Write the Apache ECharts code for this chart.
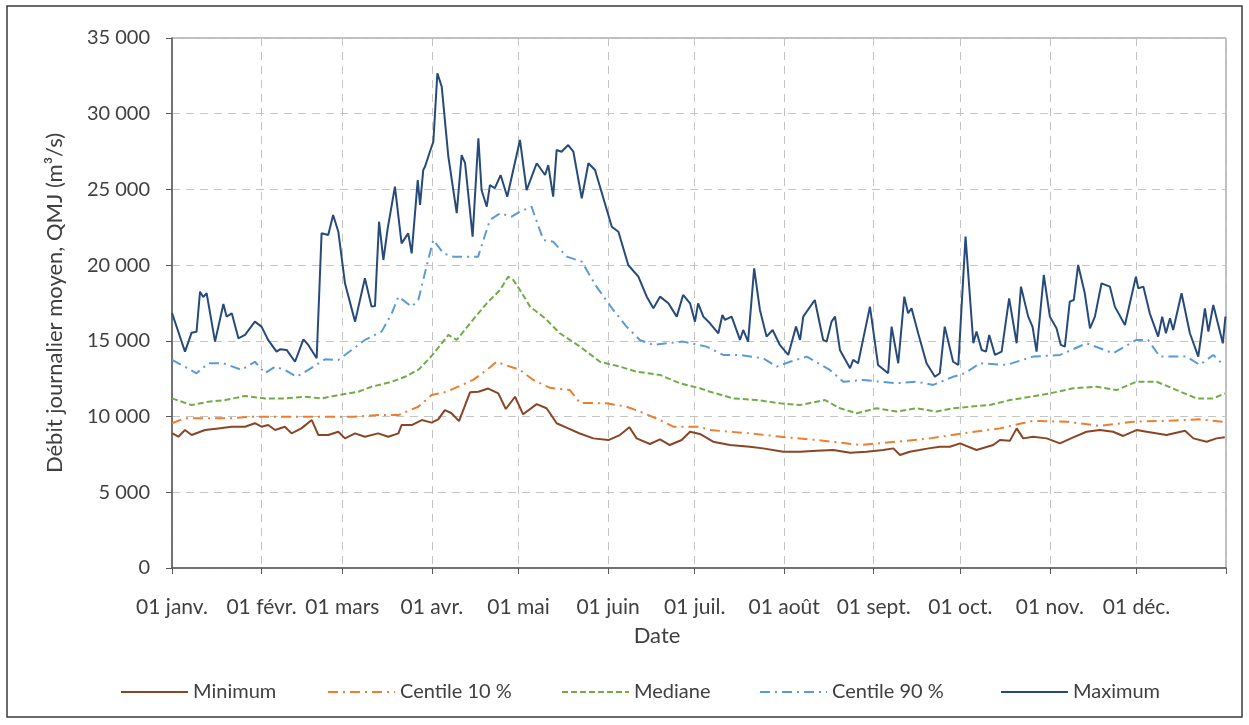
<!DOCTYPE html>
<html>
<head>
<meta charset="utf-8">
<script src="https://cdn.jsdelivr.net/npm/echarts@6/dist/echarts.min.js"></script>
<style>
  html, body { margin: 0; padding: 0; background: #fff; }
  #chart { width: 1249px; height: 725px; }
</style>
</head>
<body>
<div id="chart"></div>
<script>
// jours de l'année (0 = 01 janv.) et libellés des mois
var monthStarts = [0, 31, 59, 90, 120, 151, 181, 212, 243, 273, 304, 334];
var monthLabels = ['01 janv.', '01 févr.', '01 mars', '01 avr.', '01 mai', '01 juin',
  '01 juil.', '01 août', '01 sept.', '01 oct.', '01 nov.', '01 déc.'];
var seriesNames = ['Minimum', 'Centile 10 %', 'Mediane', 'Centile 90 %', 'Maximum'];

// [jour, débit m3/s]
var minimum = [[0,8900],[2.2,8670],[4.5,9110],[6.8,8780],[11.4,9110],[16,9220],[20.7,9330],[25.3,9330],[28.7,9560],[31,9330],[33.3,9440],[35.7,9110],[39.1,9330],[41.4,8890],[44.8,9220],[48.4,9770],[50.7,8780],[54.1,8780],[57.6,9000],[59.9,8560],[63.4,8890],[66.8,8670],[71.4,8890],[74.9,8670],[78.4,8890],[79.5,9440],[83,9440],[86.5,9770],[89.9,9600],[92.2,9820],[94.5,10430],[96.8,10220],[99.4,9700],[103.2,11600],[106.1,11640],[109.5,11850],[113,11530],[115.6,10500],[118.8,11310],[121.6,10150],[126.3,10820],[129.7,10550],[130.9,10220],[133.2,9560],[137.2,9220],[141,8900],[145.9,8560],[151.1,8450],[155.1,8780],[158.4,9290],[160.9,8560],[165.5,8190],[169,8500],[172.4,8120],[176.5,8450],[179.4,9000],[182.8,8850],[187.4,8340],[193.2,8120],[200.1,8010],[204.7,7900],[211.7,7680],[217.5,7680],[223.2,7750],[229,7790],[234.8,7610],[240.5,7680],[246.3,7790],[249.8,7900],[252.1,7460],[255.5,7680],[258.9,7790],[262,7900],[265.9,8010],[269.4,8010],[272.9,8230],[278.6,7790],[284.4,8120],[286.7,8450],[290.2,8410],[292.5,9220],[294.8,8560],[298.2,8670],[302.9,8560],[307.5,8230],[312.1,8630],[316.7,9000],[321.3,9110],[325.9,9000],[329.4,8720],[334,9110],[337.5,9000],[344.4,8780],[350.8,9070],[353.7,8560],[358.3,8340],[361.7,8560],[364.6,8630]];

var centile10 = [[0,9560],[4.5,9890],[12.6,9890],[20.7,9890],[27.6,9990],[33.3,9990],[39.1,9990],[47.2,9990],[55.3,9990],[63.4,9990],[71.4,10100],[78.4,10100],[85.3,10650],[89.9,11420],[95.1,11640],[104.3,12420],[109,13080],[112.4,13620],[115.3,13410],[120.5,13080],[125.1,12420],[130.9,11900],[137.8,11750],[141.3,10900],[150.5,10880],[157.4,10650],[162,10330],[169,9770],[173.6,9330],[182.8,9330],[186.3,9110],[200.1,8890],[212.8,8630],[225.5,8410],[238.2,8120],[250.9,8340],[262.5,8560],[274.3,8900],[286.7,9220],[298.2,9720],[309.8,9660],[321.3,9380],[332.9,9660],[344.4,9720],[355.9,9820],[364,9660]];

var mediane = [[0,11200],[6.8,10760],[12.6,10980],[18.4,11090],[25.3,11360],[32.2,11200],[39.1,11200],[46,11310],[51.8,11200],[57.6,11420],[64.5,11640],[69.1,11970],[76.1,12300],[80.7,12630],[85.6,13130],[90.2,14070],[93.4,14840],[95.7,15390],[98.6,15060],[103.2,16160],[109,17480],[113.6,18360],[116.4,19240],[118.2,19020],[120.5,18360],[124,17260],[129.2,16490],[134.3,15500],[141.3,14620],[148.2,13620],[155.1,13300],[160.9,12960],[169,12750],[175.9,12200],[182.8,11870],[186.3,11640],[194.4,11200],[202.5,11090],[210.5,10880],[217.5,10760],[226.1,11090],[231.3,10550],[237.1,10220],[244,10550],[251,10330],[257.8,10550],[264.8,10330],[270.5,10550],[276.3,10650],[283.2,10760],[290.2,11090],[297.1,11310],[304,11530],[312.1,11870],[320.2,11970],[327.1,11750],[334,12300],[341,12300],[347.9,11750],[354.8,11200],[360.6,11200],[364.6,11530]];

var centile90 = [[0,13740],[3.3,13410],[8.5,12860],[12.6,13520],[17.8,13520],[24.1,13080],[28.7,13620],[32.2,12860],[35.7,13300],[39.1,13080],[43.2,12630],[47.2,13080],[53,13780],[57.6,13740],[62.2,14400],[66.8,15060],[72.6,15610],[76.1,16820],[78.4,17920],[83,17260],[85.3,17700],[88.7,20340],[90.5,21660],[94,20780],[97.4,20560],[102,20560],[106,20560],[110.1,22980],[113.6,23420],[117.6,23200],[120.5,23530],[124.5,23860],[128.6,21660],[132,21550],[136.7,20560],[141.9,20230],[147,18580],[152.8,17040],[157.4,15940],[162,15060],[166.7,14730],[171.3,14840],[177,14950],[185.1,14620],[190.9,14070],[196.7,14070],[204.7,13850],[209.4,13300],[214,13620],[219.8,13960],[227.8,13080],[232.5,12300],[239.4,12420],[245.2,12300],[250.9,12200],[257.8,12300],[263.6,12090],[270.5,12630],[274.6,12860],[279.8,13520],[289,13410],[298.2,13960],[307.5,14070],[316.7,14840],[325.9,14180],[334,15060],[338,15060],[342.1,13960],[346.7,13960],[351.3,13960],[355.9,13410],[360.6,14070],[363.5,13520]];

var maximum = [[0,16840],[4.5,14290],[6.8,15540],[8.5,15600],[9.7,18250],[10.8,17900],[12,18140],[14.9,14950],[17.8,17430],[18.9,16600],[20.7,16820],[23,15170],[25.3,15390],[28.7,16270],[31,15940],[33.3,15060],[36.2,14290],[37.4,14440],[39.7,14400],[42.6,13620],[45.5,15100],[47.2,14730],[50.1,13850],[51.8,22100],[54.1,21990],[55.8,23310],[57.6,22210],[59.9,18800],[63.4,16270],[66.8,19130],[69.1,17260],[70.3,17300],[71.7,22870],[73.2,20340],[74.7,22430],[77.2,25180],[79.5,21440],[81.8,22100],[83,20780],[85.1,25620],[85.9,23970],[87,26280],[87.6,26500],[89.3,27490],[90.5,28150],[91.9,32670],[93.4,31790],[95.7,27160],[98.6,23430],[100.3,27270],[101.5,26730],[104.1,21880],[106.1,28380],[107.2,24960],[109,23860],[110.1,25290],[111.8,25080],[113.8,25950],[116.1,24520],[120.5,28270],[122.8,24960],[126.3,26730],[129.2,25950],[130.3,26610],[132,24520],[133.2,27600],[134.9,27490],[137.2,27930],[139,27490],[141.9,24410],[144.2,26730],[146.5,26280],[152.3,22540],[154.6,22210],[158,20010],[161.5,19240],[164.4,17920],[166.7,17150],[169,17920],[171.9,17480],[174.8,16600],[177,18030],[179.4,17480],[181.1,16270],[182.2,17480],[184,16600],[186.3,16160],[189.2,15500],[190.6,16710],[191.5,16380],[193.8,16600],[196.7,15060],[197.8,15720],[199.5,14950],[201.6,19790],[203.6,17040],[205.9,15280],[208,15720],[210.5,14730],[213.4,14070],[216.1,15940],[217.5,15060],[218.6,16600],[222.6,17700],[225.5,15060],[226.7,14950],[228.4,16270],[229.6,16600],[231.3,14400],[234.8,13190],[235.9,13740],[237.6,13520],[241.7,17260],[244.5,13410],[248,12860],[249.2,15940],[251.5,13520],[253.6,17920],[254.9,16820],[256.1,17150],[258.4,15500],[261.3,13520],[264.2,12630],[265.9,12860],[267.6,15940],[270.5,13620],[272.3,13410],[274.8,21880],[277.5,14840],[278.6,15610],[280.4,14400],[281.9,14290],[283,15390],[285,14070],[287.3,14290],[289.9,17810],[292.5,14840],[294,18580],[296.5,16600],[298,15940],[299.4,14290],[301.9,19350],[304,16600],[306.3,15830],[307.8,14730],[309.2,14620],[310.9,17590],[312.3,17700],[313.8,20010],[316.1,18140],[317.9,15830],[319.6,16600],[321.9,18800],[324.8,18580],[326.5,17260],[330,16050],[333.8,19240],[334.6,18470],[336.4,18580],[338.6,16820],[341.5,15280],[342.9,16600],[344.2,15500],[345.6,16490],[346.7,15720],[349.6,18140],[352.5,15500],[355.4,13960],[357.7,17150],[358.9,15610],[360.6,17370],[363.9,14840],[364.8,16600]];

var chart = echarts.init(document.getElementById('chart'));
var font = 'Lato, "Noto Sans", sans-serif';
var txt = '#404040';

function mkLine(name, data, color, type) {
  return {
    name: name,
    type: 'line',
    data: data,
    symbol: 'none',
    showSymbol: false,
    animation: false,
    lineStyle: { color: color, width: 2, type: type },
    // symbole de légende invisible, seule la ligne reste
    itemStyle: { color: 'rgba(0,0,0,0)' }
  };
}

// une légende par série pour caler les positions comme sur l'original
var legendLeft = [115, 322, 556, 754, 995];
var legends = seriesNames.map(function (n, i) {
  return {
    left: legendLeft[i], top: 677,
    itemWidth: 67, itemHeight: 20,
    textStyle: { fontFamily: font, fontSize: 20, color: txt },
    data: [n]
  };
});

var option = {
  backgroundColor: '#fff',
  textStyle: { fontFamily: font },
  graphic: [{
    type: 'rect',
    shape: { x: 7, y: 6, width: 1235, height: 711 },
    style: { fill: 'none', stroke: '#3a3a3a', lineWidth: 1.5 },
    silent: true
  }],
  grid: {
    left: 172, right: 23, top: 38, bottom: 157,
    show: true, borderColor: '#7f7f7f', borderWidth: 1
  },
  legend: legends,
  xAxis: {
    type: 'value',
    min: 0, max: 365,
    name: 'Date',
    nameLocation: 'middle',
    nameGap: 57,
    nameTextStyle: { fontFamily: font, fontSize: 22, color: txt, padding: [0, 84, 0, 0] },
    axisLine: { show: true, lineStyle: { color: '#595959', width: 1.5 } },
    axisTick: {
      show: true, inside: false, length: 6,
      lineStyle: { color: '#595959' },
      customValues: monthStarts.concat([365])
    },
    axisLabel: {
      fontFamily: font, fontSize: 21, color: txt, margin: 29,
      customValues: monthStarts,
      formatter: function (v) {
        var i = monthStarts.indexOf(Math.round(v));
        return i >= 0 ? monthLabels[i] : '';
      }
    },
    splitLine: { show: true, lineStyle: { color: '#c4c4c4', type: [8, 6], width: 1 } }
  },
  yAxis: {
    type: 'value',
    min: 0, max: 35000, interval: 5000,
    name: 'Débit journalier moyen, QMJ (m³/s)',
    nameLocation: 'middle',
    nameGap: 106,
    nameTextStyle: { fontFamily: font, fontSize: 22, color: txt },
    axisLine: { show: true, lineStyle: { color: '#595959', width: 1.5 } },
    axisTick: { show: true, length: 6, lineStyle: { color: '#595959' } },
    axisLabel: {
      fontFamily: font, fontSize: 20, color: txt, margin: 22,
      formatter: function (v) {
        return String(v).replace(/\B(?=(\d{3})+(?!\d))/g, ' ');
      }
    },
    splitLine: { show: true, lineStyle: { color: '#c4c4c4', type: [8, 6], width: 1 } }
  },
  series: [
    mkLine(seriesNames[0], minimum, '#8a4525', 'solid'),
    mkLine(seriesNames[1], centile10, '#ed7d31', [10, 5, 2, 5]),
    mkLine(seriesNames[2], mediane, '#70ad47', [6, 3]),
    mkLine(seriesNames[3], centile90, '#5b9bd5', [10, 5, 2, 5]),
    mkLine(seriesNames[4], maximum, '#264a7a', 'solid')
  ]
};

chart.setOption(option);
</script>
</body>
</html>
